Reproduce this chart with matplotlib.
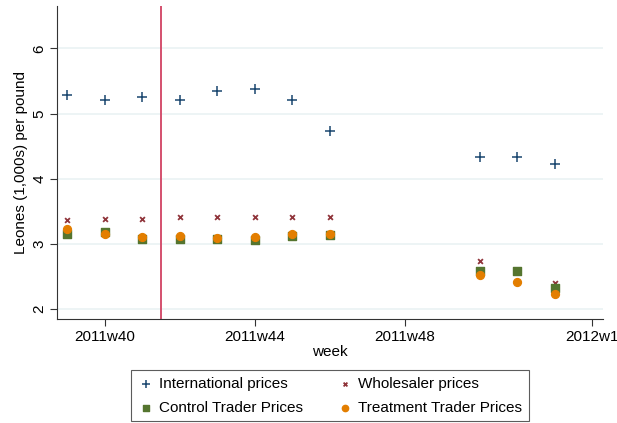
import numpy as np
import matplotlib
matplotlib.use("Agg")
import matplotlib.pyplot as plt

plt.rcParams['font.family'] = ['Liberation Sans', 'DejaVu Sans']

# stata week numbers (2011w39 .. 2011w52), 2012w1 follows 2011w52
weeks = [39, 40, 41, 42, 43, 44, 45, 46, 50, 51, 52]
international = [5.29, 5.21, 5.26, 5.21, 5.34, 5.38, 5.21, 4.73, 4.33, 4.34, 4.23]
wholesaler = [3.37, 3.39, 3.39, 3.41, 3.42, 3.42, 3.41, 3.42, 2.74, np.nan, 2.40]
control = [3.15, 3.18, 3.08, 3.07, 3.07, 3.06, 3.13, 3.14, 2.59, 2.59, 2.32]
treatment = [3.23, 3.15, 3.11, 3.12, 3.09, 3.10, 3.15, 3.16, 2.52, 2.42, 2.23]

tick_pos = [40, 44, 48, 53]
tick_labels = ["2011w40", "2011w44", "2011w48", "2012w1"]
treat_week = 41.5

fig = plt.figure(figsize=(6.17, 4.23), dpi=100)
ax = fig.add_axes([0.0929, 0.2459, 0.884, 0.7399])

ax.set_axisbelow(True)
ax.grid(axis='y', color='#eaf2f3', linewidth=1.2)

ax.scatter(weeks, international, marker='+', color='#1a476f', s=50, linewidths=1.1,
           label='International prices', zorder=3)
ax.scatter(weeks, wholesaler, marker='x', color='#90353b', s=12, linewidths=1.3,
           label='Wholesaler prices', zorder=3)
ax.scatter(weeks, control, marker='s', color='#55752f', s=32,
           label='Control Trader Prices', zorder=3)
ax.scatter(weeks, treatment, marker='o', color='#e37e00', s=32,
           label='Treatment Trader Prices', zorder=4)

ax.axvline(treat_week, color='#d4506e', linewidth=1.4, zorder=2)

ax.set_xlim(38.73, 53.28)
ax.set_ylim(1.85, 6.65)
ax.set_xticks(tick_pos)
ax.set_xticklabels(tick_labels, fontsize=11)
ax.set_yticks([2, 3, 4, 5, 6])
ax.set_yticklabels(['2', '3', '4', '5', '6'], fontsize=11, rotation=90, va='center')
ax.tick_params(direction='out', length=5, color='#333333', pad=3)
ax.set_xlabel('week', fontsize=11, labelpad=1)
ax.set_ylabel('Leones (1,000s) per pound', fontsize=11, labelpad=3)

for s in ['top', 'right']:
    ax.spines[s].set_visible(False)
for s in ['left', 'bottom']:
    ax.spines[s].set_color('#333333')

h, l = ax.get_legend_handles_labels()
order = [0, 2, 1, 3]
leg = fig.legend([h[i] for i in order], [l[i] for i in order], ncol=2,
                 loc='center', bbox_to_anchor=(0.535, 0.064), fontsize=11,
                 frameon=True, fancybox=False, edgecolor='#333333',
                 handletextpad=0.4, columnspacing=2.2, borderpad=0.45,
                 labelspacing=0.6, handlelength=1.0, markerscale=0.8)
leg.get_frame().set_linewidth(0.8)

fig.savefig('out.png', dpi=100)
